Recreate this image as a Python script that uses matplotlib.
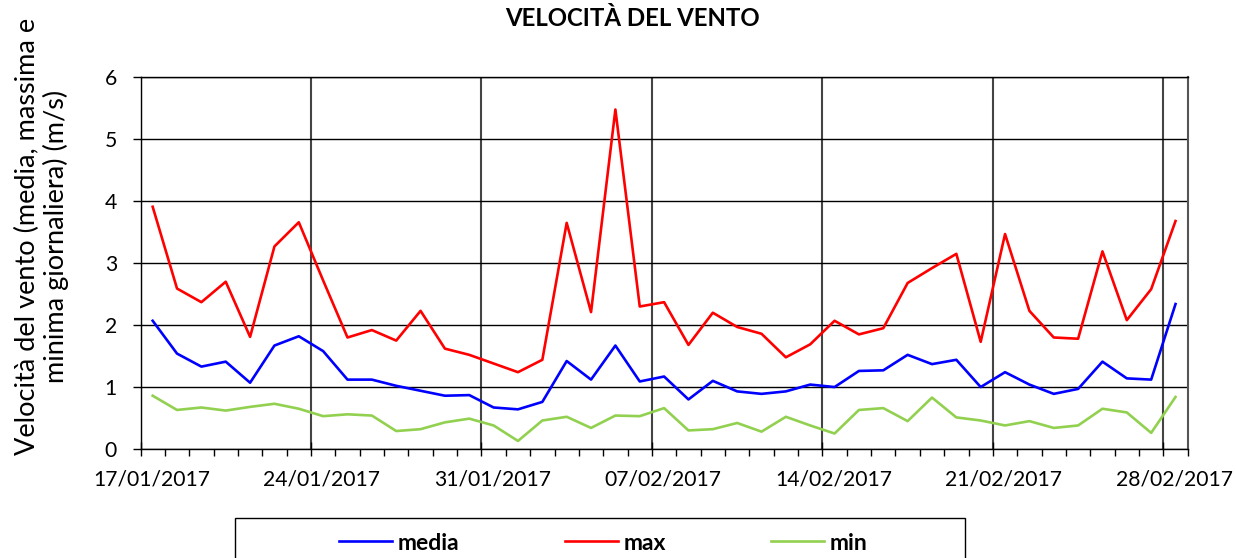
import matplotlib
matplotlib.use("Agg")
import matplotlib.pyplot as plt
import matplotlib.dates as mdates
from matplotlib.patches import Rectangle
from matplotlib.transforms import ScaledTranslation
import datetime as dt

start = dt.datetime(2017, 1, 17, 12)
dates = [start + dt.timedelta(days=i) for i in range(43)]

media = [2.07, 1.54, 1.33, 1.41, 1.07, 1.67, 1.82, 1.58, 1.12, 1.12, 1.02,
         0.94, 0.86, 0.87, 0.67, 0.64, 0.76, 1.42, 1.12, 1.67, 1.09, 1.17,
         0.80, 1.10, 0.93, 0.89, 0.93, 1.04, 1.00, 1.26, 1.27, 1.52, 1.37,
         1.44, 1.00, 1.24, 1.04, 0.89, 0.97, 1.41, 1.14, 1.12, 2.34]
vmax = [3.91, 2.59, 2.37, 2.70, 1.81, 3.27, 3.66, 2.72, 1.80, 1.92, 1.75,
        2.23, 1.62, 1.52, 1.38, 1.24, 1.44, 3.65, 2.21, 5.48, 2.30, 2.37,
        1.68, 2.20, 1.97, 1.86, 1.48, 1.69, 2.07, 1.85, 1.95, 2.68, 2.92,
        3.15, 1.73, 3.47, 2.23, 1.80, 1.78, 3.19, 2.08, 2.58, 3.68]
vmin = [0.86, 0.63, 0.67, 0.62, 0.68, 0.73, 0.65, 0.53, 0.56, 0.54, 0.29,
        0.32, 0.43, 0.49, 0.38, 0.13, 0.46, 0.52, 0.34, 0.54, 0.53, 0.66,
        0.30, 0.32, 0.42, 0.28, 0.52, 0.38, 0.25, 0.63, 0.66, 0.45, 0.83,
        0.51, 0.46, 0.38, 0.45, 0.34, 0.38, 0.65, 0.59, 0.26, 0.84]

FONT = "Lato"
plt.rcParams["font.family"] = [FONT, "DejaVu Sans"]

W, H = 1236, 558
fig = plt.figure(figsize=(W / 100, H / 100), dpi=100)
ax = fig.add_axes([140.5 / W, 1 - 449 / H, (1187.7 - 140.5) / W, (449 - 77.3) / H])

lw = 1.9
ax.plot(dates, media, color="#0000FF", lw=lw, label="media", zorder=3)
ax.plot(dates, vmax, color="#FF0000", lw=lw, label="max", zorder=3)
ax.plot(dates, vmin, color="#92D050", lw=lw, label="min", zorder=3)

ax.set_xlim(dt.datetime(2017, 1, 17), dt.datetime(2017, 3, 1))
ax.set_ylim(0, 6)
ax.set_yticks(range(0, 7))

major = [dt.datetime(2017, 1, 17) + dt.timedelta(days=7 * k) for k in range(7)]
ax.set_xticks(major)
ax.xaxis.set_major_formatter(mdates.DateFormatter("%d/%m/%Y"))
ax.xaxis.set_minor_locator(mdates.DayLocator())

ax.tick_params(axis="x", which="major", direction="inout", length=10, width=1, labelsize=15.2, pad=10)
ax.tick_params(axis="x", which="minor", direction="out", length=5, width=1)
ax.tick_params(axis="y", which="major", direction="out", length=6, width=1, labelsize=15.2, pad=11)

# labels are centred half a day to the right of the tick, as in the reference
off = ScaledTranslation(11 / 100, 0, fig.dpi_scale_trans)
for lab in ax.get_xticklabels():
    lab.set_transform(lab.get_transform() + off)

ax.grid(axis="y", color="black", lw=1.0, zorder=1)
ax.grid(axis="x", which="major", color="#444444", lw=1.5, zorder=1)

for s in ["left", "bottom", "top"]:
    ax.spines[s].set_color("black")
    ax.spines[s].set_linewidth(1.0)
ax.spines["right"].set_color("#555555")
ax.spines["right"].set_linewidth(1.5)

fig.text(632 / W, 1 - 18 / H, "VELOCITÀ DEL VENTO", ha="center", va="center",
         fontsize=17.3, fontweight="bold")

fig.text(42 / W, 1 - 236 / H,
         "Velocità del vento (media, massima e\nminima giornaliera) (m/s)",
         rotation=90, ha="center", va="center", fontsize=19.5, linespacing=1.12,
         multialignment="center")

# legend frame (extends past the bottom edge, as in the reference)
fig.add_artist(Rectangle((235 / W, -0.1), (965 - 235) / W, 0.1 + (H - 518) / H,
                         transform=fig.transFigure, fill=False, edgecolor="black",
                         lw=1.0, clip_on=False))
leg = fig.legend(loc="center", bbox_to_anchor=(603.5 / W, 1 - 543 / H),
                 ncol=3, frameon=False, handlelength=2.3, handletextpad=0.25,
                 columnspacing=4.6, borderaxespad=0,
                 prop={"weight": "bold", "size": 16.5})

fig.savefig("out.png", dpi=100)
